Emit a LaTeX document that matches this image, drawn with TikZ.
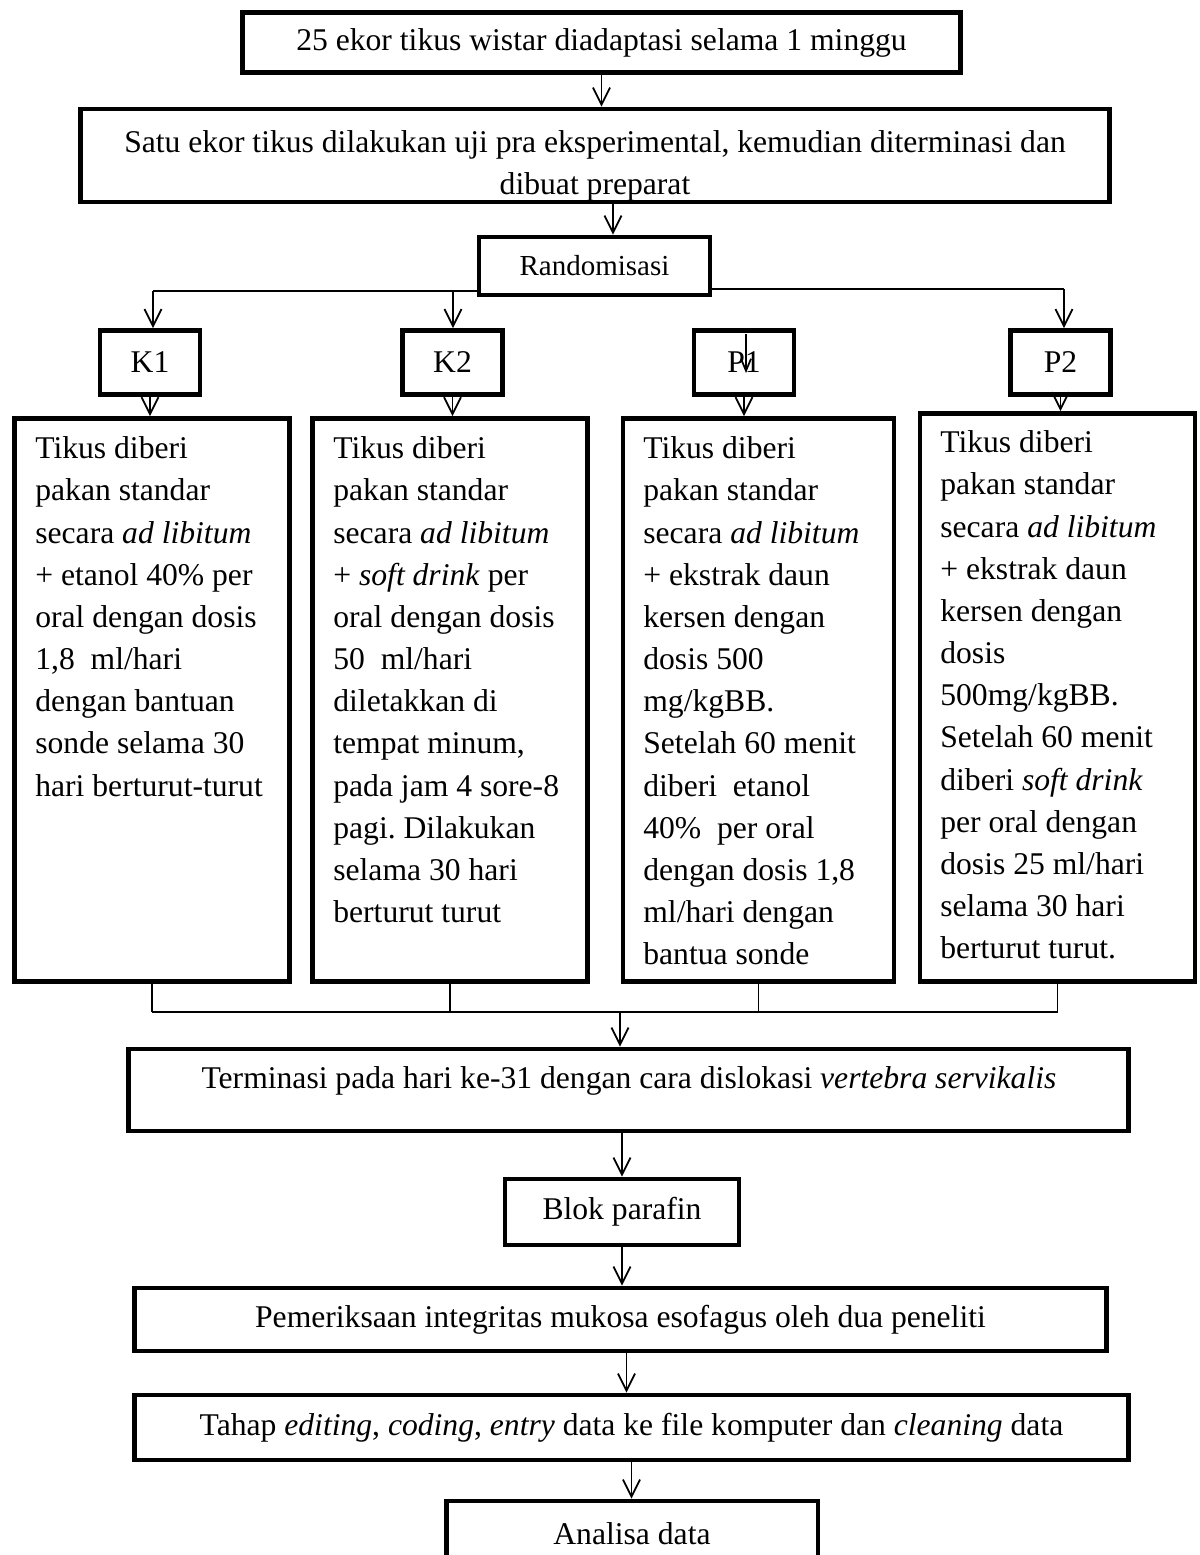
\documentclass[tikz,border=0pt]{standalone}
\usepackage{fontspec}
\setmainfont{Liberation Serif}
\usetikzlibrary{calc}
\usetikzlibrary{arrows.meta}
\frenchspacing

\begin{document}
\begin{tikzpicture}[x=0.02cm, y=-0.02cm,
 box/.style={draw, line width=2.8pt, fill=white, inner sep=0pt},
 txt/.style={inner sep=0pt, font=\fontsize{18}{24}\selectfont},
 conn/.style={line width=1pt},
 >={Straight Barb[length=.34cm, width=.34cm]}]
\useasboundingbox (0,0) rectangle (1200,1555);
% top of the flow
\node[box, txt, minimum width=14.36cm, minimum height=1.2cm] (start) at (601.5,42.5) {25 ekor tikus wistar diadaptasi selama 1 minggu};
\node[box, minimum width=20.6cm, minimum height=1.86cm] (pra) at (595,155.5) {};
\node[txt, anchor=north, align=center] (praT) at (595,130.5) {Satu ekor tikus dilakukan uji pra eksperimental, kemudian diterminasi dan\\dibuat preparat};
\node[box, txt, font=\fontsize{16.5}{20}\selectfont, minimum width=4.62cm, minimum height=1.16cm] (rand) at (594.5,266) {Randomisasi};
\coordinate (praout) at ($(pra.south)+(18,0)$);
\draw[conn, ->] (start.south) -- (start.south |- pra.north);
\draw[conn, ->] (praout) -- (praout |- rand.north);
% groups
\foreach \nm/\xx in {K1/150, K2/452.5, P1/744, P2/1060.5} {
 \node[box, txt, minimum width=2cm, minimum height=1.28cm] (\nm) at (\xx,362.5) {\nm};
}
\coordinate (hl) at (153,291);
\coordinate (hm) at (453,290);
\coordinate (hr) at (1064,289);
\draw[conn] (hl) -- (rand.west |- hl);
\draw[conn] (rand.east |- hr) -- (hr);
\draw[conn, ->] (hl) -- (hl |- K1.north);
\draw[conn, ->] (hm) -- (hm |- K2.north);
\draw[conn, ->] (hr) -- (hr |- P2.north);
\coordinate (pin) at ($(P1.north)+(2,45)$);
\coordinate (pout) at ($(P1.north)+(2,6)$);
\draw[conn, -{Straight Barb[length=.24cm, width=.2cm]}] (pout) -- (pin);
% treatment boxes
\node[box, minimum width=5.5cm, minimum height=11.26cm] (tK1) at (152.25,700) {};
\node[box, minimum width=5.5cm, minimum height=11.26cm] (tK2) at (449.75,700) {};
\node[box, minimum width=5.42cm, minimum height=11.26cm] (tP1) at (758.5,700) {};
\node[box, minimum width=5.5cm, minimum height=11.36cm] (tP2) at (1057.5,697.5) {};
\foreach \nm in {K1,K2,P1,P2} {
 \draw[conn, ->] (\nm.south) -- (\nm.south |- t\nm.north);
}
\node[txt, anchor=north west, align=left] (tK1T) at (35,436.5) {Tikus diberi\\pakan standar\\secara \textit{ad libitum}\\+ etanol 40\% per\\oral dengan dosis\\1,8\ \ ml/hari\\dengan bantuan\\sonde selama 30\\hari berturut-turut};
\node[txt, anchor=north west, align=left] (tK2T) at (333,436.5) {Tikus diberi\\pakan standar\\secara \textit{ad libitum}\\+ \textit{soft drink} per\\oral dengan dosis\\50\ \ ml/hari\\diletakkan di\\tempat minum,\\pada jam 4 sore-8\\pagi. Dilakukan\\selama 30 hari\\berturut turut};
\node[txt, anchor=north west, align=left] (tP1T) at (643,436.5) {Tikus diberi\\pakan standar\\secara \textit{ad libitum}\\+ ekstrak daun\\kersen dengan\\dosis 500\\mg/kgBB.\\Setelah 60 menit\\diberi\ \ etanol\\40\%\ \ per oral\\dengan dosis 1,8\\ml/hari dengan\\bantua sonde};
\node[txt, anchor=north west, align=left] (tP2T) at (940,430.5) {Tikus diberi\\pakan standar\\secara \textit{ad libitum}\\+ ekstrak daun\\kersen dengan\\dosis\\500mg/kgBB.\\Setelah 60 menit\\diberi \textit{soft drink}\\per oral dengan\\dosis 25 ml/hari\\selama 30 hari\\berturut turut.};
% joining the groups
\coordinate (bl) at (0,1012);
\coordinate (jn) at (620,1012);
\foreach \nm in {tK1,tK2,tP1,tP2} {
 \draw[conn] (\nm.south) -- (\nm.south |- bl);
}
\draw[conn] (tK1.south |- bl) -- (tP2.south |- bl);
% lower part of the flow
\node[box, minimum width=20.02cm, minimum height=1.64cm] (term) at (628.5,1090) {};
\node[txt, anchor=base] (termT) at (629,1088) {Terminasi pada hari ke-31 dengan cara dislokasi \textit{vertebra servikalis}};
\node[box, txt, minimum width=4.68cm, minimum height=1.32cm] (blok) at (622,1212) {Blok parafin};
\node[box, txt, minimum width=19.46cm, minimum height=1.26cm] (periksa) at (620.5,1319.5) {Pemeriksaan integritas mukosa esofagus oleh dua peneliti};
\node[box, txt, minimum width=19.9cm, minimum height=1.3cm] (tahap) at (631.5,1427.5) {Tahap \textit{editing}, \textit{coding}, \textit{entry} data ke file komputer dan \textit{cleaning} data};
\node[box, txt, minimum width=7.44cm, minimum height=1.32cm] (analisa) at (632,1534) {Analisa data};
\coordinate (perout) at ($(periksa.south)+(6,0)$);
\draw[conn, ->] (jn) -- (jn |- term.north);
\draw[conn, ->] (blok.north |- term.south) -- (blok.north);
\draw[conn, ->] (blok.south) -- (blok.south |- periksa.north);
\draw[conn, ->] (perout) -- (perout |- tahap.north);
\draw[conn, ->] (tahap.south) -- (tahap.south |- analisa.north);
\end{tikzpicture}
\end{document}
